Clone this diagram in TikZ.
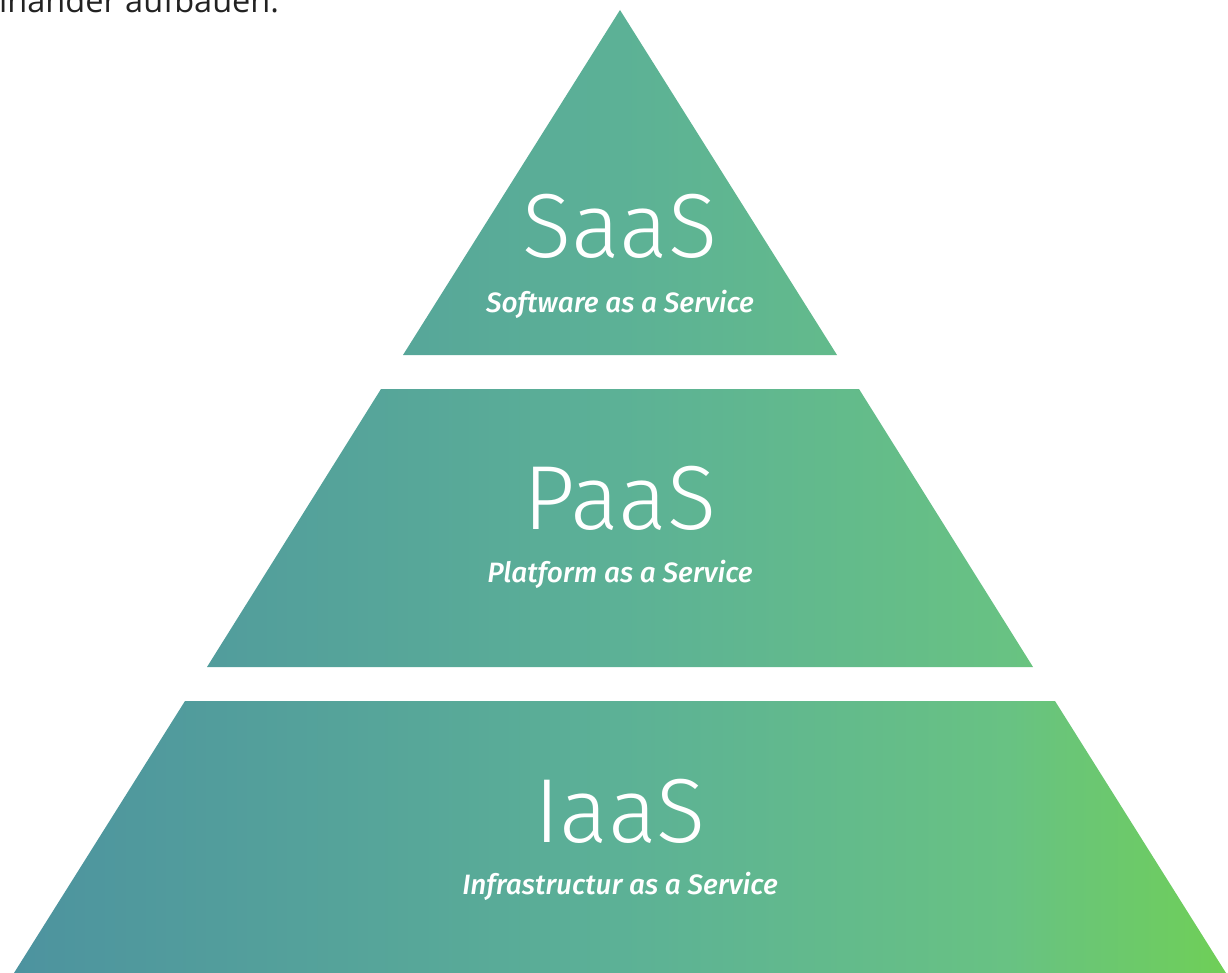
\documentclass[tikz,border=0pt]{standalone}
\usepackage{fontspec}
\setmainfont{Fira Sans}
\newfontfamily\lightfont{Fira Sans Light}
\newfontfamily\subfont{Fira Sans Medium Italic}
\newfontfamily\introfont{Open Sans}
\usetikzlibrary{positioning}
\definecolor{pyrleft}{HTML}{4D939F}
\definecolor{pyrmid}{HTML}{5CB196}
\definecolor{pyrgreen}{HTML}{68C283}
\definecolor{pyrright}{HTML}{6FCF57}
\definecolor{textgray}{HTML}{222222}
% tikz fits the path into the inner 25bp--75bp part of a shading
\pgfdeclarehorizontalshading{pyramid}{100bp}{color(0bp)=(pyrleft); color(25bp)=(pyrleft); color(50bp)=(pyrmid); color(66bp)=(pyrgreen); color(75bp)=(pyrright); color(100bp)=(pyrright)}
\tikzset{%
	layer title/.style={
		anchor=base,
		inner sep=0pt,
		text=white,
		font=\lightfont\fontsize{91}{91}\selectfont
	},
	layer sub/.style={
		anchor=base,
		inner sep=0pt,
		text=white,
		font=\subfont\fontsize{28}{28}\selectfont
	},
}
\begin{document}
\begin{tikzpicture}[x=1pt, y=-1pt]
	\useasboundingbox (0,0) rectangle (1228,973);
	
	% Text line above the pyramid (cut off)
	\node[anchor=base west, inner sep=0pt, text=textgray, font=\introfont\fontsize{32.5}{32.5}\selectfont] (intro) at (-1,13) {inander aufbauen.};
	
	% Layers of the pyramid
	\begin{scope}
		\clip (620,10) -- (837,355) -- (403,355) -- cycle
		(381,389) -- (859,389) -- (1033,667) -- (207,667) -- cycle
		(185,701) -- (1055,701) -- (1226,973) -- (14,973) -- cycle;
		\shade[shading=pyramid] (14,10) rectangle (1226,973);
	\end{scope}
	
	% Labels of the layers
	\node[layer title] (saas) at (620,258) {SaaS};
	\node[layer sub] (saas sub) at (620,313) {Software as a Service};
	
	\node[layer title] (paas) at (620,529) {PaaS};
	\node[layer sub] (paas sub) at (620,582) {Platform as a Service};
	
	\node[layer title] (iaas) at (620,842) {IaaS};
	\node[layer sub] (iaas sub) at (620,894) {Infrastructur as a Service};
	
\end{tikzpicture}
\end{document}
